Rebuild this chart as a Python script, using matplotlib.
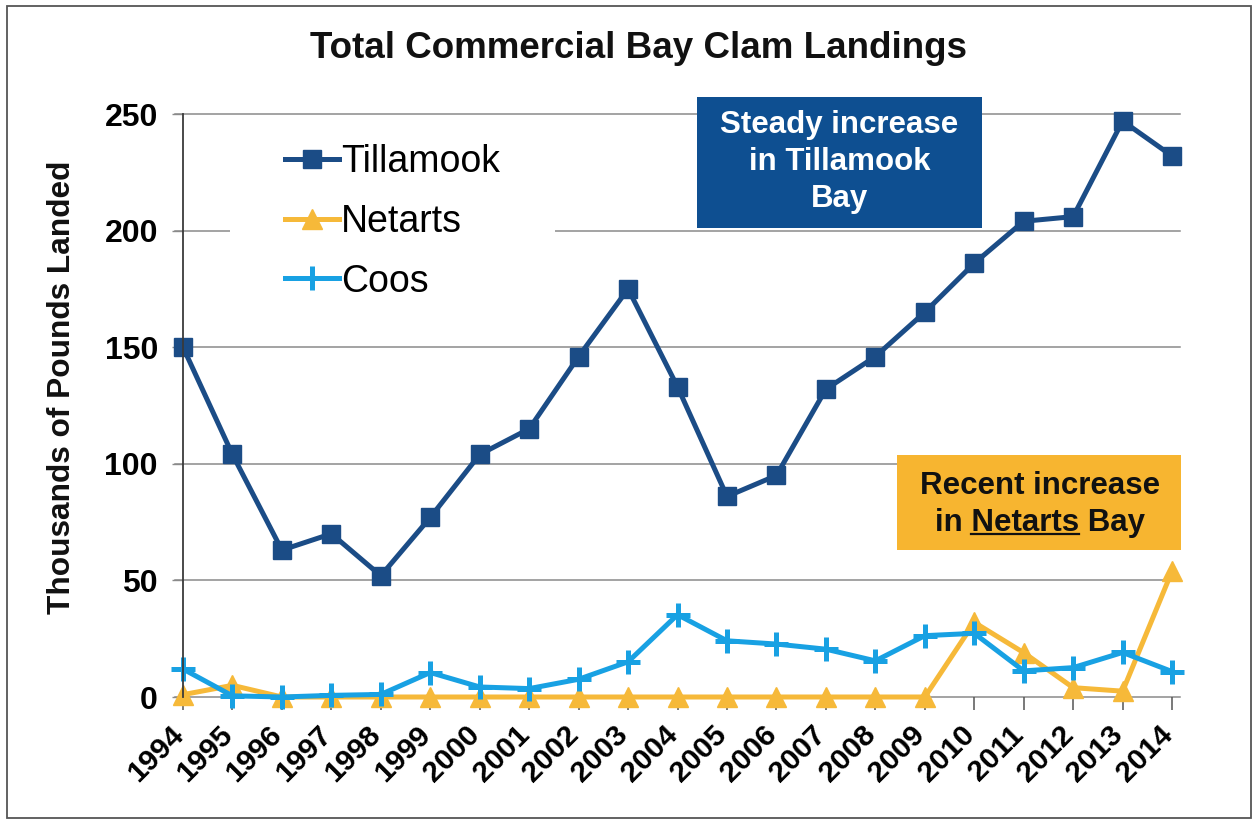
import matplotlib
matplotlib.use("Agg")
import matplotlib.pyplot as plt
from matplotlib.lines import Line2D
from matplotlib.patches import Rectangle
from matplotlib.transforms import ScaledTranslation

plt.rcParams['font.family'] = ['Liberation Sans', 'DejaVu Sans']

# Commercial bay clam landings, thousands of pounds
years = list(range(1994, 2015))
tillamook = [150, 104, 63, 70, 52, 77, 104, 115, 146, 175, 133, 86, 95, 132,
             146, 165, 186, 204, 206, 247, 232]
netarts = [1, 5, 0, 0, 0, 0, 0, 0, 0, 0, 0, 0, 0, 0,
           0, 0, 32, 19, 4, 2.5, 54]
coos = [12, 0.5, 0, 0.7, 1.1, 10.5, 4.3, 3.6, 7.6, 15.1, 35.3, 24.1, 22.7, 20.5,
        15.5, 26.3, 27.3, 11.2, 12.6, 19.1, 10.9]
series_names = ["Tillamook", "Netarts", "Coos"]
yticks = [0, 50, 100, 150, 200, 250]

c_till = '#1B4C86'
c_net = '#F6B939'
c_coos = '#18A1E3'
c_box_blue = '#0E4F91'
c_box_gold = '#F7B530'
c_grid = '#8A8A8A'

W, H = 1257, 822
fig = plt.figure(figsize=(W / 100, H / 100), dpi=100)
fig.patch.set_facecolor('white')

# plot area in pixels: left 183, right 1180, top 114, bottom 697
ax = fig.add_axes([183 / W, 1 - 697 / H, (1180 - 183) / W, (697 - 114) / H])
ax.set_xlim(1994, 2014.16)
ax.set_ylim(0, 250)

for s in ['top', 'right', 'bottom']:
    ax.spines[s].set_visible(False)
ax.spines['left'].set_color('#3a3a3a')
ax.spines['left'].set_linewidth(1.3)
ax.spines['left'].set_zorder(6)

ax.set_yticks(yticks)
ax.set_yticklabels([str(v) for v in yticks], fontsize=23, fontweight='bold')
ax.tick_params(axis='y', direction='out', length=8, width=1, color=c_grid, pad=10)
for v in yticks:
    ax.axhline(v, xmin=-8 / 997, xmax=1.0, color=c_grid, lw=1.1, zorder=1, clip_on=False)

ax.set_xticks(years)
ax.set_xticklabels([str(y) for y in years], fontsize=21.5, fontweight='bold',
                   rotation=45, ha='right', va='center', rotation_mode='anchor')
ax.tick_params(axis='x', direction='out', length=9, width=1.1, color='#555555', pad=15)
offset = ScaledTranslation(-3 / 72, 0, fig.dpi_scale_trans)
for lab in ax.get_xticklabels():
    lab.set_transform(lab.get_transform() + offset)

# white background behind the legend block
ax.add_patch(Rectangle((0.047, 0.66), 0.326, 0.31, transform=ax.transAxes,
                       facecolor='white', edgecolor='none', zorder=2))

lw = 3.6
ax.plot(years, tillamook, color=c_till, lw=lw, marker='s', markersize=12.5,
        markeredgecolor=c_till, zorder=5, clip_on=False, label=series_names[0])
ax.plot(years, netarts, color=c_net, lw=lw, marker='^', markersize=14,
        markeredgecolor=c_net, zorder=3, clip_on=False, label=series_names[1])
ax.plot(years, coos, color=c_coos, lw=lw, marker='+', markersize=17,
        markeredgewidth=3.6, zorder=4, clip_on=False, label=series_names[2])

handles = [
    Line2D([], [], color=c_till, lw=lw, marker='s', markersize=12.5),
    Line2D([], [], color=c_net, lw=lw, marker='^', markersize=14),
    Line2D([], [], color=c_coos, lw=lw, marker='+', markersize=17, markeredgewidth=3.6),
]
ax.legend(handles, series_names, loc='upper left', bbox_to_anchor=(0.1023, 0.948),
          frameon=False, borderpad=0, borderaxespad=0, fontsize=27,
          handlelength=1.45, handletextpad=0.05, labelspacing=0.63)

# annotation boxes
ax.add_patch(Rectangle((0.5155, 0.8045), 0.2859, 0.2247, transform=ax.transAxes,
                       facecolor=c_box_blue, edgecolor='none', zorder=7, clip_on=False))
ax.text(0.6585, 0.917, "Steady increase\nin Tillamook\nBay", transform=ax.transAxes,
        ha='center', va='center', color='white', fontsize=22.5, fontweight='bold',
        linespacing=1.3, zorder=8)

ax.add_patch(Rectangle((0.716, 0.2521), 0.285, 0.163, transform=ax.transAxes,
                       facecolor=c_box_gold, edgecolor='none', zorder=7, clip_on=False))
ax.text(0.8596, 0.362, "Recent increase", transform=ax.transAxes,
        ha='center', va='center', color='#111111', fontsize=22.5, fontweight='bold', zorder=8)
line2 = ax.text(0.8596, 0.298, "in Netarts Bay", transform=ax.transAxes,
                ha='center', va='center', color='#111111', fontsize=22.5,
                fontweight='bold', zorder=8)

# underline the bay name in the second line
fig.canvas.draw()
renderer = fig.canvas.get_renderer()
fp = line2.get_fontproperties()
bb = line2.get_window_extent(renderer)
full_w = renderer.get_text_width_height_descent("in Netarts Bay", fp, ismath=False)[0]
tail_w = renderer.get_text_width_height_descent("Netarts Bay", fp, ismath=False)[0]
head_w = renderer.get_text_width_height_descent("in Netarts", fp, ismath=False)[0]
_, _, desc = renderer.get_text_width_height_descent("in Netarts Bay", fp, ismath=False)
x_start = bb.x0 + (full_w - tail_w)
x_end = bb.x0 + head_w
y_base = bb.y0 + desc - 3
fig.add_artist(Line2D([x_start / W, x_end / W], [y_base / H, y_base / H],
                      color='#111111', lw=1.6, zorder=9))

fig.text(638 / W, 1 - 48 / H, "Total Commercial Bay Clam Landings", ha='center',
         va='center', fontsize=26.5, fontweight='bold', color='#111111')
fig.text(62 / W, 1 - 387 / H, "Thousands of Pounds Landed", ha='center', va='center',
         rotation=90, fontsize=22.8, fontweight='bold', color='#111111')

# outer frame
fig.add_artist(Rectangle((7 / W, 1 - 818 / H), (1251 - 7) / W, (818 - 6) / H,
                         transform=fig.transFigure, facecolor='none',
                         edgecolor='#555555', lw=1.3))

fig.savefig("out.png", dpi=100)
